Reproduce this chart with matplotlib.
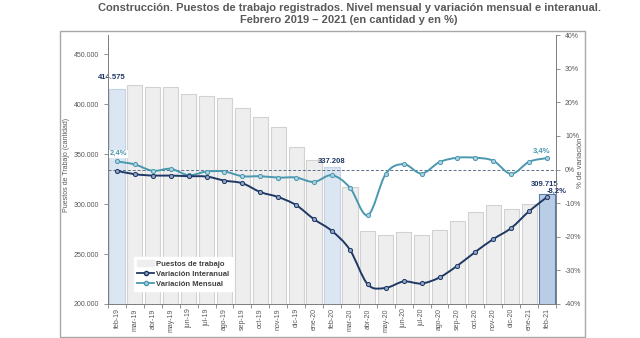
import matplotlib
matplotlib.use("Agg")
import matplotlib.pyplot as plt
import numpy as np
from matplotlib.path import Path
from matplotlib.patches import PathPatch, Rectangle, Patch
from matplotlib.lines import Line2D
from matplotlib.ticker import FuncFormatter, FixedLocator

plt.rcParams['font.family'] = ['Liberation Sans', 'DejaVu Sans']

# ------------------ DATA ------------------
months = ['feb-19', 'mar-19', 'abr-19', 'may-19', 'jun-19', 'jul-19', 'ago-19',
          'sep-19', 'oct-19', 'nov-19', 'dic-19', 'ene-20', 'feb-20', 'mar-20',
          'abr-20', 'may-20', 'jun-20', 'jul-20', 'ago-20', 'sep-20', 'oct-20',
          'nov-20', 'dic-20', 'ene-21', 'feb-21']

puestos = [414575, 419000, 417000, 417000, 410300, 408000, 405700, 396000,
           386700, 377300, 357000, 344000, 337208, 317300, 273000, 269000,
           272000, 269000, 274000, 283000, 292000, 299000, 294700, 300000,
           309715]

var_interanual = [-0.4, -1.4, -1.8, -1.8, -2.0, -2.1, -3.3, -4.1, -6.7, -8.2,
                  -10.6, -14.8, -18.3, -23.9, -34.2, -35.2, -33.3, -33.9, -32.1,
                  -28.6, -24.5, -20.7, -17.4, -12.4, -8.2]

var_mensual = [2.4, 1.5, -0.4, 0.2, -1.7, -0.6, -0.6, -2.0, -2.0, -2.4, -2.4,
               -3.7, -1.7, -5.4, -13.6, -1.3, 1.6, -1.2, 2.2, 3.5, 3.5, 2.6,
               -1.3, 2.3, 3.4]

highlight = ['feb-19', 'feb-20', 'feb-21']

NAVY = '#1f3864'
TEAL = '#4a98b0'
GRAY = '#595959'


def smooth_path(xs, ys):
    # Excel-like smoothed line: cubic bezier through every point
    pts = np.column_stack([xs, ys]).astype(float)
    verts = [pts[0]]
    codes = [Path.MOVETO]
    n = len(pts)
    for i in range(n - 1):
        p0 = pts[i - 1] if i > 0 else pts[i]
        p1 = pts[i]
        p2 = pts[i + 1]
        p3 = pts[i + 2] if i + 2 < n else pts[i + 1]
        c1 = p1 + (p2 - p0) / 6.0
        c2 = p2 - (p3 - p1) / 6.0
        verts += [c1, c2, p2]
        codes += [Path.CURVE4] * 3
    return Path(verts, codes)


fig = plt.figure(figsize=(6.4, 3.38), dpi=100)
ax1 = fig.add_axes([108 / 640, 1 - 304 / 338, 448 / 640, 269 / 338])
ax2 = ax1.twinx()

x = np.arange(len(months))

# ------------------ BARS ------------------
face = ['#dce6f2' if m in highlight else '#eeeeee' for m in months]
edge = ['#c3d2e6' if m in highlight else '#d2d2d2' for m in months]
face[-1] = '#b9cde5'
edge[-1] = '#5b7ca8'
ax1.bar(x, puestos, width=0.85, color=face, edgecolor=edge, linewidth=0.8, zorder=1)

ax1.set_xlim(-0.5, len(months) - 0.5)
ax1.set_ylim(200000, 469000)
ax1.yaxis.set_major_locator(FixedLocator(range(200000, 450001, 50000)))
ax1.yaxis.set_major_formatter(FuncFormatter(lambda v, p: f'{int(v):,}'.replace(',', '.')))
ax1.set_xticks(x)
ax1.set_xticklabels(months, rotation=90, fontsize=5, color=GRAY)
ax1.set_xticks(np.arange(-0.5, len(months)), minor=True)
ax1.tick_params(axis='x', which='major', length=0, pad=3)
ax1.tick_params(axis='x', which='minor', length=3, color='#808080', width=0.6)
ax1.tick_params(axis='y', labelsize=5, labelcolor=GRAY, length=3, color='#808080', width=0.6)

for s in ['top']:
    ax1.spines[s].set_visible(False)
    ax2.spines[s].set_visible(False)
for ax in (ax1, ax2):
    for s in ['left', 'right', 'bottom']:
        ax.spines[s].set_color('#808080')
        ax.spines[s].set_linewidth(0.7)

# ------------------ LINES ------------------
ax2.set_ylim(-40, 40)
ax2.set_yticks(range(-40, 41, 10))
ax2.yaxis.set_major_formatter(FuncFormatter(lambda v, p: f'{int(v)}%'))
ax2.tick_params(axis='y', labelsize=5, labelcolor=GRAY, length=3, color='#808080', width=0.6)

ax2.axhline(0, color='#5a6f86', linestyle=(0, (3, 2)), linewidth=0.7, zorder=2)

ax2.add_patch(PathPatch(smooth_path(x, var_mensual), facecolor='none',
                        edgecolor=TEAL, linewidth=1.4, zorder=3))
ax2.plot(x, var_mensual, linestyle='none', marker='o', markersize=3,
         markerfacecolor='#a9d3e1', markeredgecolor=TEAL, markeredgewidth=0.7, zorder=4)

ax2.add_patch(PathPatch(smooth_path(x, var_interanual), facecolor='none',
                        edgecolor=NAVY, linewidth=1.4, zorder=3))
ax2.plot(x, var_interanual, linestyle='none', marker='o', markersize=3,
         markerfacecolor='#8fa3c4', markeredgecolor=NAVY, markeredgewidth=0.7, zorder=4)

# ------------------ DATA LABELS ------------------
def fmt_num(v):
    return f'{v:,}'.replace(',', '.')

def fmt_pct(v):
    return f'{v:.1f}%'.replace('.', ',')

lab = dict(fontsize=5.5, fontweight='bold', ha='center', va='bottom')
ax1.annotate(fmt_num(puestos[0]), (0, puestos[0]), xytext=(-4, 6),
             textcoords='offset points', color=NAVY, zorder=6, **lab)
ax1.annotate(fmt_num(puestos[12]), (12, puestos[12]), xytext=(0, 1.5),
             textcoords='offset points', color=NAVY, zorder=6, **lab)
ax1.annotate(fmt_num(puestos[-1]), (24, puestos[-1]), xytext=(-2, 4.5),
             textcoords='offset points', color=NAVY, zorder=6, **lab)
ax2.annotate(fmt_pct(var_mensual[0]), (0, var_mensual[0]), xytext=(1, 3),
             textcoords='offset points', color=TEAL, zorder=6,
             bbox=dict(facecolor='white', edgecolor='none', pad=0.5), **lab)
ax2.annotate(fmt_pct(var_mensual[-1]), (24, var_mensual[-1]), xytext=(-4, 2.5),
             textcoords='offset points', color=TEAL, zorder=6, **lab)
ax2.annotate(fmt_pct(var_interanual[-1]), (24, var_interanual[-1]), xytext=(7, 1.5),
             textcoords='offset points', color=NAVY, zorder=6, **lab)

# ------------------ LEGEND ------------------
handles = [Patch(facecolor='#eeeeee', edgecolor='#eeeeee'),
           Line2D([], [], color=NAVY, lw=1.3, marker='o', markersize=3,
                  markerfacecolor='#8fa3c4', markeredgecolor=NAVY),
           Line2D([], [], color=TEAL, lw=1.3, marker='o', markersize=3,
                  markerfacecolor='#a9d3e1', markeredgecolor=TEAL)]
leg = ax2.legend(handles, ['Puestos de trabajo', 'Variación Interanual', 'Variación Mensual'],
                 loc='lower left', bbox_to_anchor=(0.05, 0.035), fontsize=5.5,
                 frameon=True, fancybox=False, framealpha=1, edgecolor='white',
                 handlelength=2.2, handletextpad=0.2, labelspacing=0.35,
                 borderpad=0.4)
for t in leg.get_texts():
    t.set_color('#404040')
    t.set_fontweight('bold')
leg.set_zorder(10)

# ------------------ TEXTS ------------------
fig.text(66 / 640, 1 - 165 / 338, 'Puestos de Trabajo (cantidad)', rotation=90,
         fontsize=5, color=GRAY, ha='center', va='center')
fig.text(580 / 640, 1 - 163 / 338, '% de variación', rotation=90,
         fontsize=5.5, color=GRAY, ha='center', va='center')

fig.text(349 / 640, 1 - 8 / 338,
         'Construcción. Puestos de trabajo registrados. Nivel mensual y variación mensual e interanual.',
         fontsize=8, fontweight='bold', color=GRAY, ha='center', va='center')
fig.text(349 / 640, 1 - 20 / 338, 'Febrero 2019 – 2021 (en cantidad y en %)',
         fontsize=8, fontweight='bold', color=GRAY, ha='center', va='center')

fig.patches.append(Rectangle((60 / 640, 1 / 338), 525 / 640, 306 / 338,
                             transform=fig.transFigure, fill=False,
                             edgecolor='#a8a8a8', linewidth=1))

fig.savefig('out.png', dpi=100)
